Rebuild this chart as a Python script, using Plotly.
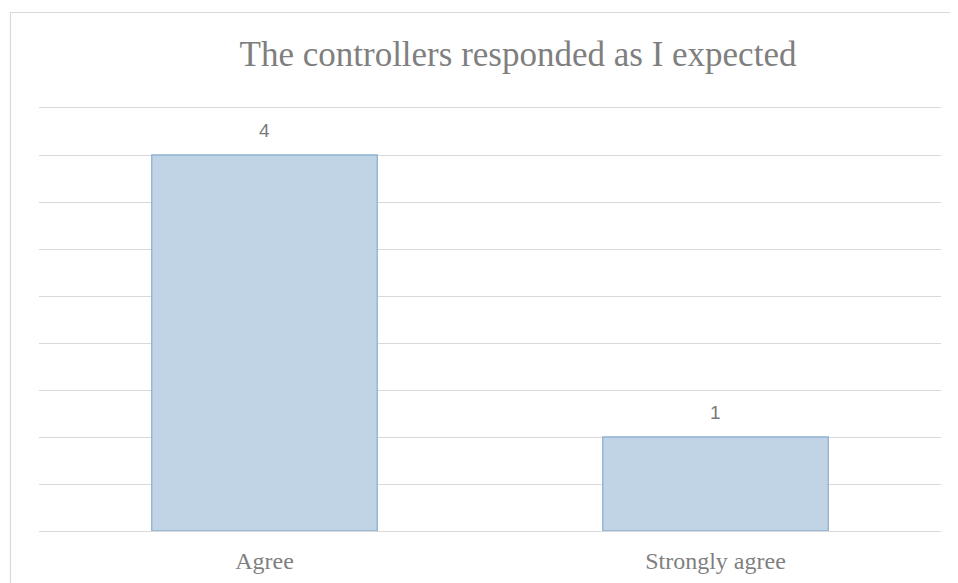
import plotly.graph_objects as go

categories = ["Agree", "Strongly agree"]
values = [4, 1]
title_text = "The controllers responded as I expected"

W, H = 958, 583
OFF = 8  # default page body margin
L, R, T, B = 39 - OFF, 17 + OFF, 108 - OFF, 52 + OFF
pw, ph = W - L - R, H - T - B

fig = go.Figure()
fig.add_trace(go.Bar(
    x=categories, y=values, width=0.5,
    marker=dict(color="#C1D4E6", line=dict(color="#8EB1D1", width=1.3)),
    hoverinfo="skip",
))

for c, v in zip(categories, values):
    fig.add_annotation(x=c, y=v, text=str(v), showarrow=False,
                       yanchor="bottom", yshift=12,
                       font=dict(family="Liberation Sans", size=19, color="#7a7a7a"))

fig.add_shape(type="rect", xref="paper", yref="paper",
              x0=(10.5 - OFF - L) / pw, x1=1.2, y0=-0.3, y1=(H - B - (12.5 - OFF)) / ph,
              line=dict(color="#D9D9D9", width=1.2), fillcolor="rgba(0,0,0,0)", layer="below")

fig.update_layout(
    width=W, height=H,
    margin=dict(l=L, r=R, t=T, b=B),
    paper_bgcolor="white", plot_bgcolor="white",
    showlegend=False,
    title=dict(text=title_text, x=(518 - OFF) / W, xanchor="center", y=1 - (54 - OFF) / H,
               yanchor="middle",
               font=dict(family="Liberation Serif", size=35, color="#7f7f7f")),
    xaxis=dict(showgrid=False, zeroline=False, showline=True, mirror=True,
               linecolor="#D9D9D9", linewidth=1.2, ticks="",
               tickfont=dict(family="Liberation Serif", size=24, color="#7f7f7f"),
               ticklabelstandoff=8),
    yaxis=dict(range=[0, 4.5], dtick=0.5, showticklabels=False, showgrid=True,
               gridcolor="#D9D9D9", gridwidth=1.2, zeroline=True, zerolinecolor="#D9D9D9",
               zerolinewidth=1.2, showline=False, ticks=""),
    bargap=0.5,
)

fig.write_html("out.html")
